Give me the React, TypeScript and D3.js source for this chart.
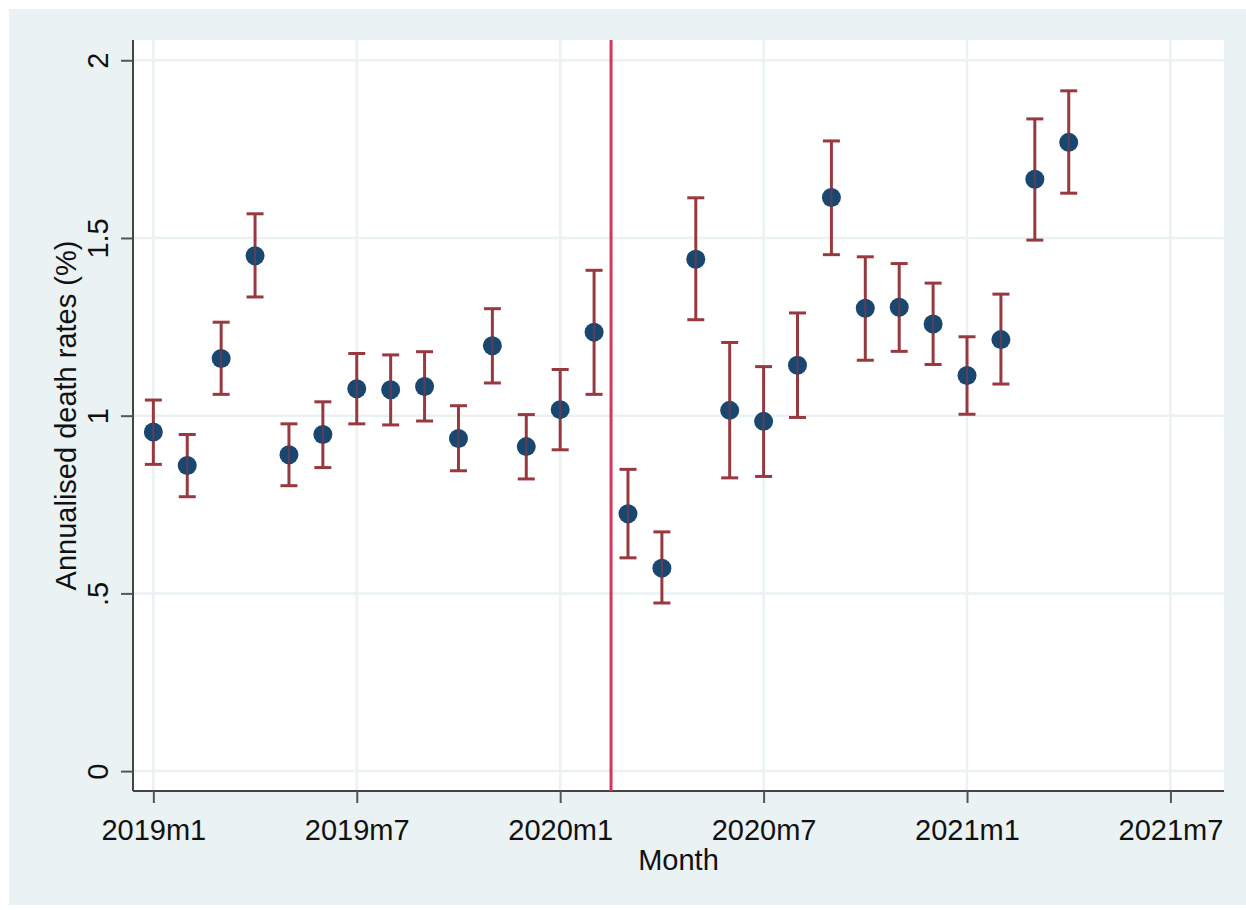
// @ts-nocheck
import React, { useEffect, useRef } from "react";
import * as d3 from "d3";

// month labels, one per observation (index = months since 2019m1)
const months = [
  "2019m1", "2019m2", "2019m3", "2019m4", "2019m5", "2019m6", "2019m7",
  "2019m8", "2019m9", "2019m10", "2019m11", "2019m12", "2020m1", "2020m2",
  "2020m3", "2020m4", "2020m5", "2020m6", "2020m7", "2020m8", "2020m9",
  "2020m10", "2020m11", "2020m12", "2021m1", "2021m2", "2021m3", "2021m4",
];
const rates = [
  0.954, 0.86, 1.161, 1.45, 0.89, 0.947, 1.076, 1.073, 1.082, 0.936, 1.197,
  0.913, 1.017, 1.235, 0.724, 0.571, 1.44, 1.015, 0.984, 1.142, 1.614, 1.302,
  1.305, 1.258, 1.113, 1.214, 1.665, 1.769,
];
const lower = [
  0.863, 0.772, 1.06, 1.334, 0.803, 0.854, 0.977, 0.974, 0.985, 0.845, 1.092,
  0.822, 0.904, 1.06, 0.6, 0.473, 1.27, 0.825, 0.829, 0.995, 1.453, 1.156,
  1.181, 1.144, 1.004, 1.089, 1.494, 1.626,
];
const upper = [
  1.044, 0.947, 1.263, 1.568, 0.977, 1.039, 1.175, 1.171, 1.18, 1.028, 1.301,
  1.003, 1.13, 1.409, 0.849, 0.673, 1.613, 1.206, 1.138, 1.289, 1.773, 1.447,
  1.428, 1.373, 1.222, 1.342, 1.835, 1.914,
];
const xTicks = [0, 6, 12, 18, 24, 30];
const xTickLabels = ["2019m1", "2019m7", "2020m1", "2020m7", "2021m1", "2021m7"];
const yTicks = [0, 0.5, 1, 1.5, 2];
const yTickLabels = ["0", ".5", "1", "1.5", "2"];
const breakMonth = 13.5; // between 2020m2 and 2020m3

const W = 1246;
const H = 910;

const Chart = () => {
  const svgRef = useRef();

  useEffect(() => {
    document.body.style.margin = "0";
    const font = "'Liberation Sans', Arial, sans-serif";
    const bg = "#eaf2f3";

    const svg = d3.select(svgRef.current);
    svg.selectAll("*").remove();

    const plot = { left: 133, right: 1224, top: 40, bottom: 791 };

    const x = d3.scaleLinear().domain([-0.6, 31.58]).range([plot.left, plot.right]);
    const y = d3.scaleLinear().domain([-0.056, 2.057]).range([plot.bottom, plot.top]);

    // outer panel
    svg.append("rect").attr("width", W).attr("height", H).attr("fill", "white");
    svg
      .append("rect")
      .attr("x", 9)
      .attr("y", 9)
      .attr("width", W - 9)
      .attr("height", H - 14)
      .attr("fill", bg);

    // plot region
    svg
      .append("rect")
      .attr("x", plot.left)
      .attr("y", plot.top)
      .attr("width", plot.right - plot.left)
      .attr("height", plot.bottom - plot.top)
      .attr("fill", "white");

    // grid
    svg
      .append("g")
      .selectAll("line")
      .data(yTicks)
      .enter()
      .append("line")
      .attr("x1", plot.left)
      .attr("x2", plot.right)
      .attr("y1", (d) => y(d))
      .attr("y2", (d) => y(d))
      .attr("stroke", bg)
      .attr("stroke-width", 2.5);

    svg
      .append("g")
      .selectAll("line")
      .data(xTicks)
      .enter()
      .append("line")
      .attr("x1", (d) => x(d))
      .attr("x2", (d) => x(d))
      .attr("y1", plot.top)
      .attr("y2", plot.bottom)
      .attr("stroke", bg)
      .attr("stroke-width", 2.5);

    // axes
    const yAxis = svg
      .append("g")
      .attr("transform", `translate(${plot.left},0)`)
      .call(d3.axisLeft(y).tickValues(yTicks).tickSize(12).tickPadding(0).tickFormat((d, i) => yTickLabels[i]));
    yAxis.select(".domain").attr("d", `M0,${plot.top}V${plot.bottom}`);
    yAxis
      .selectAll("text")
      .attr("x", 0)
      .attr("y", 0)
      .attr("dy", 0)
      .attr("transform", "translate(-25,0) rotate(-90)")
      .style("text-anchor", "middle");

    const xAxis = svg
      .append("g")
      .attr("transform", `translate(0,${plot.bottom})`)
      .call(d3.axisBottom(x).tickValues(xTicks).tickSize(12).tickPadding(0).tickFormat((d, i) => xTickLabels[i]));
    xAxis.select(".domain").attr("d", `M${plot.left},0H${plot.right}`);
    xAxis.selectAll("text").attr("dy", 0).attr("y", 49);

    [yAxis, xAxis].forEach((a) => {
      a.select(".domain").attr("stroke", "#444").attr("stroke-width", 2);
      a.selectAll(".tick line").attr("stroke", "#555").attr("stroke-width", 2);
      a.selectAll("text")
        .style("font-family", font)
        .style("font-size", "29px")
        .attr("fill", "#111");
    });

    // axis titles
    svg
      .append("text")
      .attr("transform", `translate(76,${(plot.top + plot.bottom) / 2}) rotate(-90)`)
      .attr("text-anchor", "middle")
      .style("font-family", font)
      .style("font-size", "29px")
      .attr("fill", "#111")
      .text("Annualised death rates (%)");

    svg
      .append("text")
      .attr("x", (plot.left + plot.right) / 2)
      .attr("y", 870)
      .attr("text-anchor", "middle")
      .style("font-family", font)
      .style("font-size", "29px")
      .attr("fill", "#111")
      .text("Month");

    // vertical reference line
    svg
      .append("line")
      .attr("x1", x(breakMonth))
      .attr("x2", x(breakMonth))
      .attr("y1", plot.top)
      .attr("y2", plot.bottom)
      .attr("stroke", "#d0385d")
      .attr("stroke-width", 3);

    const data = months.map((m, i) => ({
      m,
      i,
      v: rates[i],
      lo: lower[i],
      hi: upper[i],
    }));

    // error bars
    const cap = 8.5;
    const bars = svg.append("g").attr("stroke", "#98393f").attr("stroke-width", 3);
    bars
      .selectAll(".stem")
      .data(data)
      .enter()
      .append("line")
      .attr("x1", (d) => x(d.i))
      .attr("x2", (d) => x(d.i))
      .attr("y1", (d) => y(d.lo))
      .attr("y2", (d) => y(d.hi));
    ["lo", "hi"].forEach((k) => {
      bars
        .selectAll(`.cap-${k}`)
        .data(data)
        .enter()
        .append("line")
        .attr("x1", (d) => x(d.i) - cap)
        .attr("x2", (d) => x(d.i) + cap)
        .attr("y1", (d) => y(d[k]))
        .attr("y2", (d) => y(d[k]));
    });

    // points
    svg
      .append("g")
      .selectAll("circle")
      .data(data)
      .enter()
      .append("circle")
      .attr("cx", (d) => x(d.i))
      .attr("cy", (d) => y(d.v))
      .attr("r", 9.5)
      .attr("fill", "#1a476f");

    // stem shows through the marker in the original
    svg
      .append("g")
      .attr("stroke", "#98393f")
      .attr("stroke-width", 2)
      .attr("stroke-opacity", 0.55)
      .selectAll("line")
      .data(data)
      .enter()
      .append("line")
      .attr("x1", (d) => x(d.i))
      .attr("x2", (d) => x(d.i))
      .attr("y1", (d) => y(d.v) - 9)
      .attr("y2", (d) => y(d.v) + 9);
  }, []);

  return <svg ref={svgRef} width={W} height={H} style={{ display: "block" }}></svg>;
};

export default function App() {
  return <Chart />;
}
